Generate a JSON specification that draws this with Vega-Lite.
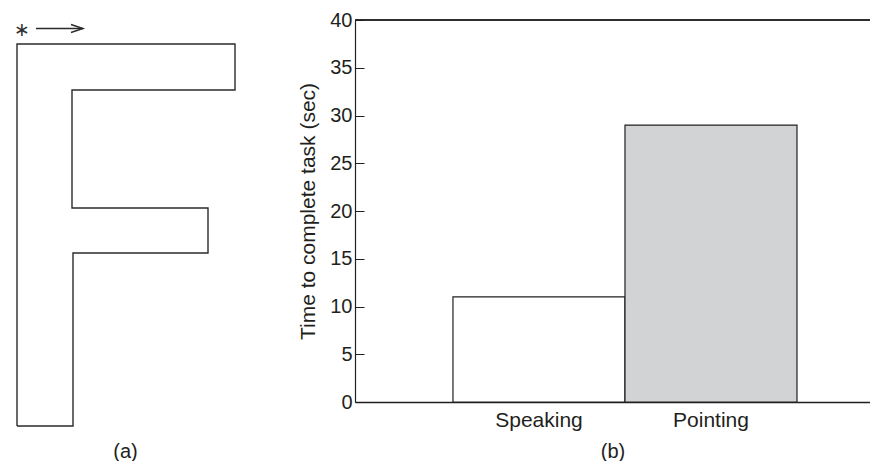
{
  "$schema": "https://vega.github.io/schema/vega-lite/v6.json",
  "padding": {"left": 0, "top": 10, "right": 0, "bottom": 0},
  "background": "white",
  "bounds": "flush",
  "spacing": 105,
  "config": {
    "view": {"stroke": null},
    "font": "Liberation Sans",
    "axis": {"labelFont": "Liberation Sans", "titleFont": "Liberation Sans", "labelColor": "#231f20", "titleColor": "#231f20", "titleFontWeight": "normal", "domainColor": "#231f20", "tickColor": "#231f20", "grid": false}
  },
  "datasets": {
    "shape": [
      {"part": "F", "i": 0, "u": 0, "v": 0},
      {"part": "F", "i": 1, "u": 0, "v": 38.2},
      {"part": "F", "i": 2, "u": 21.8, "v": 38.2},
      {"part": "F", "i": 3, "u": 21.8, "v": 33.6},
      {"part": "F", "i": 4, "u": 5.5, "v": 33.6},
      {"part": "F", "i": 5, "u": 5.5, "v": 21.8},
      {"part": "F", "i": 6, "u": 19.1, "v": 21.8},
      {"part": "F", "i": 7, "u": 19.1, "v": 17.3},
      {"part": "F", "i": 8, "u": 5.6, "v": 17.3},
      {"part": "F", "i": 9, "u": 5.6, "v": 0},
      {"part": "F", "i": 10, "u": 0, "v": 0},
      {"part": "shaft", "i": 0, "u": 1.9, "v": 39.75},
      {"part": "shaft", "i": 1, "u": 6.6, "v": 39.75},
      {"part": "head", "i": 0, "u": 5.4, "v": 40.15},
      {"part": "head", "i": 1, "u": 6.6, "v": 39.75},
      {"part": "head", "i": 2, "u": 5.4, "v": 39.35}
    ],
    "start": [{"u": 0.5, "v": 39.6, "label": "∗"}],
    "times": [
      {"condition": "Speaking", "time": 11},
      {"condition": "Pointing", "time": 29}
    ]
  },
  "hconcat": [
    {
      "width": 250,
      "height": 406,
      "layer": [
        {
          "data": {"name": "shape"},
          "mark": {"type": "line", "stroke": "#2b2b2b", "strokeWidth": 1.4, "interpolate": "linear"},
          "encoding": {
            "x": {"field": "u", "type": "quantitative", "scale": {"domain": [-1.7, 23.3], "nice": false, "zero": false}, "axis": {"title": "(a)", "labels": false, "ticks": false, "domain": false, "titleFontSize": 20, "titlePadding": 15}},
            "y": {"field": "v", "type": "quantitative", "scale": {"domain": [0, 40.6], "nice": false}, "axis": null},
            "detail": {"field": "part"},
            "order": {"field": "i"}
          }
        },
        {
          "data": {"name": "start"},
          "mark": {"type": "text", "font": "DejaVu Sans", "fontSize": 19, "baseline": "middle", "align": "center", "color": "#333333"},
          "encoding": {
            "x": {"field": "u", "type": "quantitative"},
            "y": {"field": "v", "type": "quantitative"},
            "text": {"field": "label"}
          }
        }
      ]
    },
    {
      "width": 515,
      "height": 382,
      "data": {"name": "times"},
      "layer": [
        {
          "mark": {"type": "bar", "stroke": "#231f20", "strokeWidth": 1.2},
          "encoding": {
            "x": {"field": "condition", "type": "nominal", "sort": null,
                  "scale": {"domain": ["Speaking", "Pointing"], "paddingInner": 0, "paddingOuter": 0.497, "align": 0.573},
                  "axis": {"title": "(b)", "labelAngle": 0, "ticks": false, "labelFontSize": 21, "labelPadding": 7, "titleFontSize": 20, "titlePadding": 11, "domainWidth": 1.5}},
            "y": {"field": "time", "type": "quantitative",
                  "scale": {"domain": [0, 40], "nice": false},
                  "axis": {"title": "Time to complete task (sec)", "values": [0, 5, 10, 15, 20, 25, 30, 35, 40], "tickSize": -9, "labelPadding": 12, "labelFontSize": 20, "titleFontSize": 21, "titlePadding": 11, "domainWidth": 1.2}},
            "color": {"field": "condition", "type": "nominal", "scale": {"domain": ["Speaking", "Pointing"], "range": ["#ffffff", "#d1d3d4"]}, "legend": null}
          }
        },
        {
          "mark": {"type": "rule", "color": "#231f20", "strokeWidth": 1.5},
          "encoding": {"y": {"datum": 40}}
        }
      ]
    }
  ]
}
